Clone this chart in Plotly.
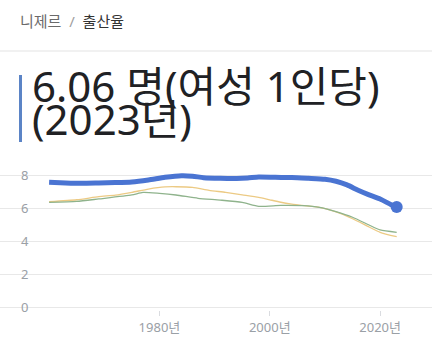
import plotly.graph_objects as go

# ---- data ----
blue_years = [1960, 1963, 1966, 1969, 1972, 1975, 1978, 1981, 1984, 1986, 1988, 1991, 1994, 1996,
              1998, 2001, 2004, 2007, 2010, 2012, 2014, 2016, 2018, 2020, 2022, 2023]
blue_vals = [7.56, 7.52, 7.50, 7.52, 7.54, 7.58, 7.70, 7.86, 7.96, 7.93, 7.84, 7.80, 7.79, 7.82,
             7.88, 7.86, 7.85, 7.80, 7.74, 7.62, 7.40, 7.08, 6.80, 6.55, 6.20, 6.06]

yellow_years = [1960, 1965, 1969, 1972, 1975, 1978, 1981, 1983, 1986, 1989, 1992, 1995, 1998, 2000,
                2002, 2004, 2007, 2009, 2012, 2015, 2018, 2020, 2023]
yellow_vals = [6.38, 6.50, 6.69, 6.78, 6.95, 7.15, 7.28, 7.29, 7.25, 7.07, 6.95, 6.80, 6.65, 6.50,
               6.35, 6.24, 6.12, 6.04, 5.76, 5.35, 4.85, 4.53, 4.26]

green_years = [1960, 1965, 1969, 1975, 1977, 1980, 1983, 1987, 1991, 1995, 1998, 2002, 2006, 2009,
               2012, 2015, 2018, 2020, 2023]
green_vals = [6.34, 6.40, 6.55, 6.79, 6.95, 6.89, 6.79, 6.59, 6.48, 6.34, 6.10, 6.16, 6.14, 6.04,
              5.78, 5.44, 4.97, 4.67, 4.53]

x_ticks = [1980, 2000, 2020]
x_tick_labels = ["1980년", "2000년", "2020년"]
y_ticks = [0, 2, 4, 6, 8]

breadcrumb = ("<span style='color:#6a6a6a'>니제르</span>"
              "<span style='color:#a0a0a0'>&nbsp;&nbsp;/&nbsp;&nbsp;</span>"
              "<span style='color:#333333'>출산율</span>")
title_line1 = "6.06 명(여성 1인당)"
title_line2 = "(2023년)"

BLUE = "#4a74d2"
FONT = "Noto Sans, Noto Sans CJK KR, sans-serif"

fig = go.Figure()
fig.add_trace(go.Scatter(x=yellow_years, y=yellow_vals, mode="lines",
                         line=dict(color="#ecca84", width=1.3, shape="spline", smoothing=0.6),
                         hoverinfo="skip"))
fig.add_trace(go.Scatter(x=green_years, y=green_vals, mode="lines",
                         line=dict(color="#8fb38c", width=1.3, shape="spline", smoothing=0.6),
                         hoverinfo="skip"))
fig.add_trace(go.Scatter(x=blue_years, y=blue_vals, mode="lines",
                         line=dict(color=BLUE, width=5, shape="spline", smoothing=0.6),
                         hoverinfo="skip"))
fig.add_trace(go.Scatter(x=[blue_years[-1]], y=[blue_vals[-1]], mode="markers",
                         marker=dict(color=BLUE, size=12), hoverinfo="skip"))

# plot area: top at 160 px, bottom at 310 px (150 px tall)
def py(px):  # pixel row -> paper y
    return (310 - px) / 150.0

shapes = []
# white patches behind y tick labels (break the gridlines like the reference)
for v in y_ticks:
    shapes.append(dict(type="rect", xref="paper", yref="y", x0=0.032, x1=0.075,
                       y0=v - 0.35, y1=v + 0.35, fillcolor="white", line_width=0, layer="between"))
# divider under breadcrumb
shapes.append(dict(type="line", xref="paper", yref="paper", x0=0, x1=1, y0=py(51), y1=py(51),
                   line=dict(color="#e3e3e3", width=1)))
# blue accent bar next to title
shapes.append(dict(type="rect", xref="paper", yref="paper", x0=19 / 432, x1=22 / 432,
                   y0=py(142), y1=py(75), fillcolor="#5b84c6", line_width=0))

annotations = [
    dict(text=breadcrumb, xref="paper", yref="paper", x=18 / 432, y=py(21), xanchor="left",
         yanchor="middle", showarrow=False, font=dict(family=FONT, size=15)),
    dict(text=title_line1, xref="paper", yref="paper", x=30 / 432, y=py(85), xanchor="left",
         yanchor="middle", showarrow=False, font=dict(family=FONT, size=42, color="#202124")),
    dict(text=title_line2, xref="paper", yref="paper", x=30 / 432, y=py(119), xanchor="left",
         yanchor="middle", showarrow=False, font=dict(family=FONT, size=42, color="#202124")),
]

fig.update_layout(
    width=432, height=337,
    margin=dict(l=0, r=0, t=160, b=27),
    paper_bgcolor="white", plot_bgcolor="white",
    showlegend=False,
    shapes=shapes,
    annotations=annotations,
    font=dict(family=FONT),
    xaxis=dict(range=[1951.1, 2029.4], tickvals=x_ticks, ticktext=x_tick_labels,
               showgrid=False, zeroline=False, showline=False,
               ticks="outside", ticklen=5, tickcolor="#dadce0", tickwidth=1,
               tickfont=dict(size=13, color="#9aa0a6", family=FONT), fixedrange=True),
    yaxis=dict(range=[-0.18, 8.97 - 0.06], tickvals=y_ticks, showgrid=True, gridcolor="#e8e8e8",
               gridwidth=1, zeroline=False, showline=False,
               ticklabelposition="inside", ticklabelstandoff=18, ticklabeloverflow="allow",
               tickfont=dict(size=13, color="#9aa0a6", family=FONT), fixedrange=True),
)

fig.write_html("out.html", config={"displayModeBar": False})
